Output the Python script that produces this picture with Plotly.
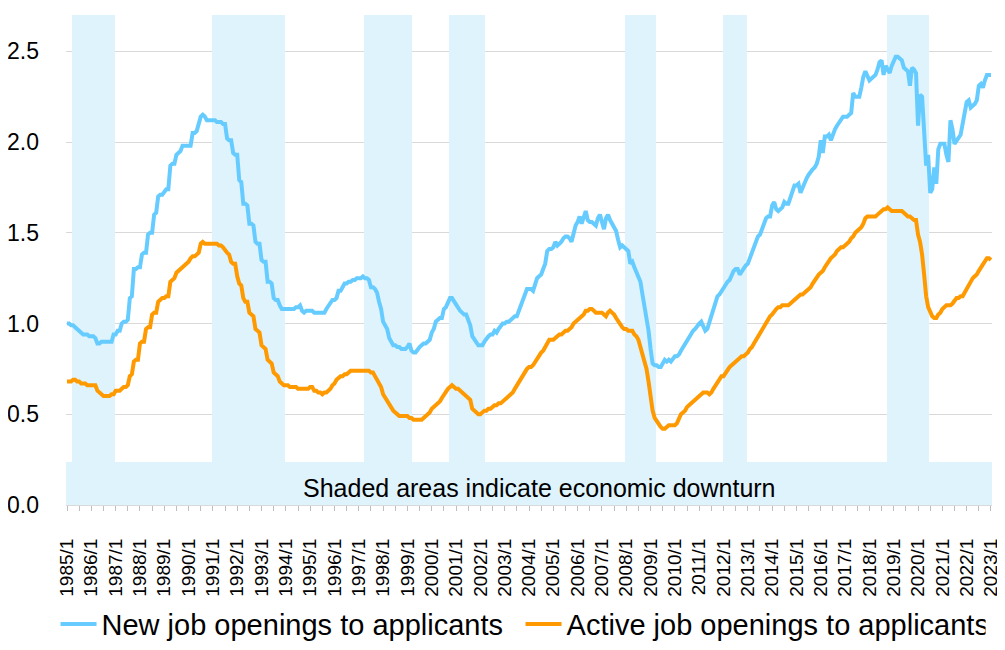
import plotly.graph_objects as go

# ---------------- data ----------------
months = [f"{y}/{m}" for y in range(1985, 2023) for m in range(1, 13)] + ["2023/1"]

new_openings = [
    1.00, 1.00, 0.99, 0.99, 0.98, 0.97, 0.96, 0.95, 0.94, 0.94, 0.94, 0.93,  # 1985
    0.93, 0.93, 0.92, 0.89, 0.89, 0.90, 0.90, 0.90, 0.90, 0.90, 0.90, 0.94,  # 1986
    0.94, 0.96, 0.96, 1.00, 1.01, 1.01, 1.02, 1.14, 1.15, 1.30, 1.30, 1.31,  # 1987
    1.31, 1.38, 1.39, 1.39, 1.49, 1.50, 1.50, 1.60, 1.61, 1.70, 1.71, 1.71,  # 1988
    1.73, 1.74, 1.74, 1.87, 1.88, 1.88, 1.93, 1.94, 1.95, 1.98, 1.98, 1.98,  # 1989
    1.98, 1.98, 2.05, 2.05, 2.06, 2.10, 2.14, 2.15, 2.14, 2.12, 2.12, 2.12,  # 1990
    2.12, 2.12, 2.11, 2.11, 2.11, 2.10, 2.10, 2.02, 2.01, 2.01, 1.94, 1.93,  # 1991
    1.93, 1.79, 1.78, 1.66, 1.66, 1.65, 1.55, 1.55, 1.54, 1.45, 1.44, 1.44,  # 1992
    1.35, 1.34, 1.34, 1.23, 1.23, 1.22, 1.14, 1.13, 1.13, 1.10, 1.08, 1.08,  # 1993
    1.08, 1.08, 1.08, 1.08, 1.08, 1.09, 1.09, 1.10, 1.07, 1.06, 1.07, 1.07,  # 1994
    1.07, 1.07, 1.06, 1.06, 1.06, 1.06, 1.06, 1.06, 1.08, 1.10, 1.12, 1.13,  # 1995
    1.13, 1.14, 1.18, 1.18, 1.20, 1.22, 1.22, 1.23, 1.23, 1.24, 1.24, 1.25,  # 1996
    1.25, 1.25, 1.26, 1.25, 1.25, 1.24, 1.20, 1.20, 1.19, 1.17, 1.12, 1.08,  # 1997
    1.01, 0.99, 0.97, 0.92, 0.90, 0.88, 0.88, 0.87, 0.87, 0.86, 0.86, 0.86,  # 1998
    0.87, 0.89, 0.85, 0.84, 0.84, 0.86, 0.87, 0.88, 0.89, 0.89, 0.90, 0.91,  # 1999
    0.95, 0.97, 1.01, 1.02, 1.03, 1.03, 1.08, 1.09, 1.11, 1.14, 1.14, 1.12,  # 2000
    1.11, 1.09, 1.07, 1.06, 1.05, 1.05, 1.02, 0.99, 0.93, 0.91, 0.90, 0.88,  # 2001
    0.88, 0.88, 0.90, 0.92, 0.93, 0.94, 0.94, 0.96, 0.95, 0.97, 0.99, 1.00,  # 2002
    1.00, 1.01, 1.01, 1.02, 1.03, 1.04, 1.04, 1.07, 1.10, 1.13, 1.17, 1.19,  # 2003
    1.19, 1.19, 1.18, 1.22, 1.25, 1.26, 1.27, 1.30, 1.33, 1.40, 1.41, 1.41,  # 2004
    1.42, 1.45, 1.43, 1.44, 1.45, 1.47, 1.48, 1.48, 1.47, 1.45, 1.51, 1.54,  # 2005
    1.56, 1.59, 1.55, 1.58, 1.62, 1.57, 1.56, 1.56, 1.55, 1.54, 1.58, 1.60,  # 2006
    1.56, 1.52, 1.58, 1.60, 1.57, 1.55, 1.53, 1.51, 1.46, 1.42, 1.43, 1.42,  # 2007
    1.41, 1.40, 1.33, 1.34, 1.31, 1.28, 1.26, 1.23, 1.16, 1.10, 1.04, 0.96,  # 2008
    0.86, 0.78, 0.77, 0.77, 0.76, 0.76, 0.78, 0.80, 0.79, 0.80, 0.79, 0.81,  # 2009
    0.82, 0.82, 0.83, 0.85, 0.87, 0.89, 0.91, 0.93, 0.95, 0.96, 0.97, 0.99,  # 2010
    1.00, 1.01, 0.98, 0.96, 0.97, 1.01, 1.04, 1.07, 1.13, 1.15, 1.16, 1.18,  # 2011
    1.19, 1.21, 1.23, 1.24, 1.27, 1.29, 1.30, 1.30, 1.27, 1.29, 1.31, 1.32,  # 2012
    1.33, 1.36, 1.39, 1.42, 1.46, 1.48, 1.49, 1.52, 1.56, 1.58, 1.59, 1.59,  # 2013
    1.65, 1.67, 1.63, 1.62, 1.63, 1.64, 1.67, 1.66, 1.66, 1.69, 1.72, 1.76,  # 2014
    1.76, 1.77, 1.72, 1.75, 1.77, 1.80, 1.82, 1.84, 1.85, 1.86, 1.88, 1.92,  # 2015
    2.01, 1.94, 2.03, 2.03, 2.04, 2.01, 2.05, 2.07, 2.09, 2.11, 2.13, 2.14,  # 2016
    2.14, 2.14, 2.15, 2.16, 2.27, 2.25, 2.25, 2.25, 2.30, 2.36, 2.39, 2.36,  # 2017
    2.34, 2.35, 2.36, 2.37, 2.40, 2.44, 2.45, 2.37, 2.42, 2.40, 2.38, 2.42,  # 2018
    2.44, 2.47, 2.47, 2.46, 2.45, 2.41, 2.40, 2.39, 2.31, 2.41, 2.40, 2.38,  # 2019
    2.09, 2.26, 2.25, 2.09, 1.87, 1.93, 1.72, 1.74, 1.86, 1.77, 1.96, 1.99,  # 2020
    1.99, 1.99, 1.93, 1.89, 2.12, 2.07, 1.99, 2.01, 2.03, 2.04, 2.10, 2.17,  # 2021
    2.22, 2.23, 2.19, 2.20, 2.21, 2.23, 2.31, 2.32, 2.30, 2.34, 2.37, 2.37,  # 2022
    2.37,                                                                    # 2023
]

active_openings = [
    0.68, 0.68, 0.68, 0.69, 0.69, 0.68, 0.68, 0.67, 0.67, 0.67, 0.66, 0.66,  # 1985
    0.66, 0.66, 0.66, 0.63, 0.62, 0.61, 0.60, 0.60, 0.60, 0.60, 0.61, 0.61,  # 1986
    0.63, 0.63, 0.63, 0.64, 0.65, 0.65, 0.66, 0.71, 0.72, 0.79, 0.80, 0.80,  # 1987
    0.89, 0.90, 0.90, 0.97, 0.98, 0.98, 1.05, 1.06, 1.06, 1.12, 1.13, 1.14,  # 1988
    1.14, 1.15, 1.15, 1.23, 1.24, 1.25, 1.28, 1.29, 1.30, 1.31, 1.32, 1.33,  # 1989
    1.34, 1.36, 1.37, 1.37, 1.38, 1.39, 1.44, 1.45, 1.44, 1.44, 1.44, 1.44,  # 1990
    1.44, 1.44, 1.44, 1.43, 1.43, 1.42, 1.40, 1.39, 1.38, 1.34, 1.33, 1.33,  # 1991
    1.26, 1.22, 1.21, 1.14, 1.12, 1.12, 1.06, 1.05, 1.04, 0.97, 0.96, 0.95,  # 1992
    0.88, 0.87, 0.86, 0.80, 0.79, 0.78, 0.73, 0.72, 0.71, 0.68, 0.67, 0.66,  # 1993
    0.66, 0.66, 0.65, 0.65, 0.65, 0.65, 0.64, 0.64, 0.64, 0.64, 0.64, 0.64,  # 1994
    0.65, 0.65, 0.63, 0.63, 0.62, 0.62, 0.61, 0.62, 0.62, 0.63, 0.64, 0.66,  # 1995
    0.67, 0.69, 0.70, 0.71, 0.71, 0.72, 0.72, 0.73, 0.74, 0.74, 0.74, 0.74,  # 1996
    0.74, 0.74, 0.74, 0.74, 0.74, 0.74, 0.73, 0.73, 0.71, 0.69, 0.68, 0.65,  # 1997
    0.61, 0.59, 0.57, 0.55, 0.53, 0.52, 0.51, 0.50, 0.49, 0.49, 0.49, 0.49,  # 1998
    0.49, 0.48, 0.48, 0.47, 0.47, 0.47, 0.47, 0.47, 0.48, 0.49, 0.50, 0.51,  # 1999
    0.53, 0.54, 0.55, 0.56, 0.57, 0.59, 0.61, 0.62, 0.64, 0.65, 0.66, 0.65,  # 2000
    0.64, 0.64, 0.63, 0.62, 0.61, 0.60, 0.59, 0.58, 0.53, 0.52, 0.51, 0.50,  # 2001
    0.50, 0.51, 0.52, 0.52, 0.53, 0.53, 0.54, 0.55, 0.55, 0.56, 0.56, 0.57,  # 2002
    0.58, 0.59, 0.60, 0.61, 0.62, 0.64, 0.66, 0.67, 0.69, 0.71, 0.73, 0.75,  # 2003
    0.76, 0.76, 0.77, 0.79, 0.81, 0.82, 0.84, 0.85, 0.87, 0.89, 0.91, 0.91,  # 2004
    0.91, 0.92, 0.93, 0.94, 0.94, 0.95, 0.96, 0.96, 0.97, 0.98, 1.00, 1.01,  # 2005
    1.02, 1.03, 1.04, 1.05, 1.07, 1.07, 1.08, 1.08, 1.07, 1.06, 1.06, 1.06,  # 2006
    1.06, 1.05, 1.04, 1.06, 1.07, 1.06, 1.05, 1.03, 1.01, 1.00, 0.98, 0.97,  # 2007
    0.97, 0.96, 0.96, 0.96, 0.94, 0.93, 0.91, 0.87, 0.83, 0.80, 0.75, 0.68,  # 2008
    0.60, 0.52, 0.48, 0.46, 0.44, 0.43, 0.42, 0.42, 0.43, 0.44, 0.44, 0.44,  # 2009
    0.44, 0.45, 0.48, 0.50, 0.51, 0.52, 0.54, 0.55, 0.56, 0.57, 0.58, 0.59,  # 2010
    0.60, 0.61, 0.62, 0.62, 0.62, 0.61, 0.62, 0.64, 0.66, 0.68, 0.69, 0.71,  # 2011
    0.71, 0.73, 0.74, 0.76, 0.77, 0.78, 0.79, 0.80, 0.81, 0.82, 0.82, 0.83,  # 2012
    0.84, 0.86, 0.87, 0.89, 0.91, 0.92, 0.94, 0.96, 0.99, 1.01, 1.03, 1.04,  # 2013
    1.05, 1.07, 1.08, 1.09, 1.09, 1.10, 1.10, 1.10, 1.10, 1.11, 1.12, 1.13,  # 2014
    1.14, 1.15, 1.16, 1.16, 1.17, 1.18, 1.19, 1.20, 1.22, 1.24, 1.25, 1.27,  # 2015
    1.28, 1.29, 1.31, 1.33, 1.35, 1.36, 1.37, 1.38, 1.40, 1.41, 1.42, 1.42,  # 2016
    1.43, 1.44, 1.45, 1.47, 1.48, 1.50, 1.51, 1.52, 1.53, 1.55, 1.58, 1.59,  # 2017
    1.59, 1.59, 1.59, 1.59, 1.60, 1.61, 1.62, 1.63, 1.63, 1.64, 1.63, 1.62,  # 2018
    1.62, 1.62, 1.62, 1.62, 1.62, 1.61, 1.60, 1.59, 1.59, 1.58, 1.57, 1.57,  # 2019
    1.49, 1.45, 1.38, 1.27, 1.15, 1.09, 1.06, 1.04, 1.03, 1.03, 1.05, 1.06,  # 2020
    1.08, 1.09, 1.10, 1.10, 1.10, 1.11, 1.13, 1.14, 1.14, 1.15, 1.15, 1.17,  # 2021
    1.19, 1.22, 1.24, 1.25, 1.26, 1.27, 1.29, 1.31, 1.33, 1.35, 1.36, 1.36,  # 2022
    1.35,                                                                    # 2023
]

downturns = [
    ("1985/4", "1986/12"),
    ("1991/1", "1993/12"),
    ("1997/4", "1999/3"),
    ("2000/10", "2002/3"),
    ("2008/1", "2009/3"),
    ("2012/1", "2012/12"),
    ("2018/10", "2020/6"),
]
shade_top = 2.7
band_height = 0.235
band_text = "Shaded areas indicate economic downturn"
series_names = ["New job openings to applicants", "Active job openings to applicants"]
y_ticks = [0.0, 0.5, 1.0, 1.5, 2.0, 2.5]

# ---------------- styles ----------------
FONT = "Liberation Sans, Arial, sans-serif"
SHADE = "#DEF3FC"
BLUE = "#66CCFF"
ORANGE = "#FF9900"
GRID = "#D9D9D9"

idx = {m: i for i, m in enumerate(months)}
x = list(range(len(months)))

fig = go.Figure()

for s, e in downturns:
    a, b = idx[s], idx[e]
    fig.add_trace(go.Bar(
        x=[(a + b) / 2], y=[shade_top], width=[b - a + 1], base=0,
        marker=dict(color=SHADE, line=dict(width=0)),
        showlegend=False, hoverinfo="skip"))

fig.add_trace(go.Bar(
    x=[(len(x) - 1) / 2], y=[band_height], width=[len(x)], base=0,
    marker=dict(color=SHADE, line=dict(width=0)),
    showlegend=False, hoverinfo="skip"))

fig.add_trace(go.Scatter(
    x=x, y=new_openings, mode="lines", name=series_names[0],
    line=dict(color=BLUE, width=4)))
fig.add_trace(go.Scatter(
    x=x, y=active_openings, mode="lines", name=series_names[1],
    line=dict(color=ORANGE, width=4)))

fig.add_annotation(
    x=233, y=0.095, xref="x", yref="y", text=band_text,
    showarrow=False, font=dict(family=FONT, size=25, color="#000000"))

tickvals = list(range(0, len(months), 6))
ticktext = [months[i] if i % 12 == 0 else "" for i in tickvals]

fig.update_layout(
    width=997, height=660,
    margin=dict(l=58, r=13, t=7, b=163),
    paper_bgcolor="white", plot_bgcolor="white",
    barmode="overlay", bargap=0,
    font=dict(family=FONT, color="#000000"),
    showlegend=True,
    legend=dict(
        orientation="h", x=-0.0113, xanchor="left", y=-0.243, yanchor="middle",
        font=dict(family=FONT, size=29, color="#000000"),
        bgcolor="rgba(0,0,0,0)", itemwidth=36, traceorder="normal",
        entrywidth=414, entrywidthmode="pixels"),
    xaxis=dict(
        range=[-0.5, len(months) - 0.5],
        tickmode="array", tickvals=tickvals, ticktext=ticktext,
        tickangle=-90, ticks="outside", ticklen=5, tickcolor="#BFBFBF",
        ticklabelstandoff=20, automargin=False,
        tickfont=dict(family=FONT, size=19, color="#000000"),
        showline=True, linecolor=GRID, linewidth=1,
        showgrid=False, zeroline=False),
    yaxis=dict(
        range=[0, shade_top],
        tickmode="array", tickvals=y_ticks, ticktext=[f"{v:.1f}" for v in y_ticks],
        ticks="", ticklabelstandoff=26, automargin=False,
        tickfont=dict(family=FONT, size=23, color="#000000"),
        showgrid=True, gridcolor=GRID, gridwidth=1,
        zeroline=False, showline=False),
)

fig.write_html("out.html")
